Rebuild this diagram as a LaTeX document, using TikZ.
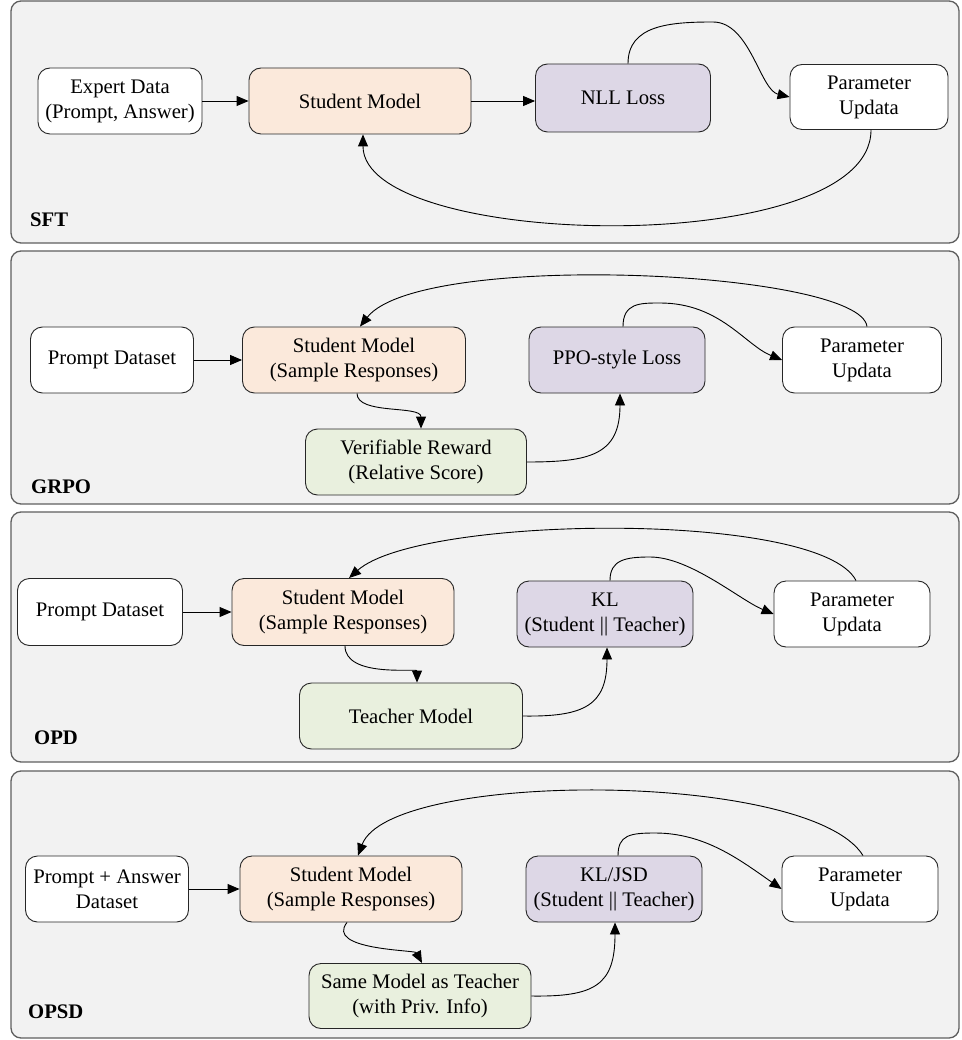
\documentclass[tikz,border=0pt]{standalone}
\usepackage{fontspec}
\setmainfont{LiberationSerif}[Extension=.ttf, UprightFont=*-Regular, BoldFont=*-Bold, ItalicFont=*-Italic, BoldItalicFont=*-BoldItalic]
\usetikzlibrary{arrows.meta}
\definecolor{panelfill}{HTML}{F2F2F2}
\definecolor{panelline}{HTML}{5F5F5F}
\definecolor{peach}{HTML}{FBE9DB}
\definecolor{lav}{HTML}{DDD7E6}
\definecolor{mint}{HTML}{E9F0DE}
\begin{document}
\begin{tikzpicture}[x=1pt,y=-1pt,
  panel/.style={draw=panelline, fill=panelfill, line width=1.3pt, rounded corners=10pt},
  box/.style={draw=black!85, line width=0.9pt, rounded corners=12pt, align=center, inner sep=0pt, font=\rmfamily\fontsize{20.7}{25}\selectfont},
  wbox/.style={box, fill=white},
  sbox/.style={box, fill=peach},
  lbox/.style={box, fill=lav},
  gbox/.style={box, fill=mint},
  tag/.style={font=\rmfamily\fontsize{20.7}{25}\selectfont\bfseries, anchor=base west, inner sep=0pt},
  conn/.style={draw=black, line width=0.9pt, -{Triangle[length=12pt,width=10pt]}},
]
\useasboundingbox (0,0) rectangle (961,1040);
\fill[white] (0,0) rectangle (961,1040);

% panels
\draw[panel] (11,1) rectangle (959,243);
\draw[panel] (11,251) rectangle (959,504);
\draw[panel] (11,512) rectangle (959,762);
\draw[panel] (11,771) rectangle (959,1038);

% ---------- SFT ----------
\node[wbox, minimum width=164pt, minimum height=66pt] (e1) at (120,101) {Expert Data\\(Prompt, Answer)};
\node[sbox, minimum width=222pt, minimum height=66pt] (s1) at (360,101) {Student Model};
\node[lbox, minimum width=175pt, minimum height=68pt] (l1) at (623,98) {NLL Loss};
\node[wbox, minimum width=158pt, minimum height=65pt] (p1) at (869,97) {Parameter\\Updata};
\node[tag] (t1lab) at (30,227) {SFT};

\draw[conn] (e1) -- (s1);
\draw[conn] (s1.east) -- (l1.west |- s1.east);
\draw[conn] ([xshift=5pt]l1.north) .. controls (628,25) and (670,22) .. (713,22) .. controls (750,22) and (760,90) .. (p1.west);
\draw[conn] ([xshift=2pt]p1.south) .. controls (871,260) and (363,250) .. ([xshift=3pt]s1.south);

% ---------- GRPO ----------
\node[wbox, minimum width=163pt, minimum height=66pt] (d2) at (112,360) {Prompt Dataset};
\node[sbox, minimum width=223pt, minimum height=66pt] (s2) at (354,360) {Student Model\\(Sample Responses)};
\node[gbox, minimum width=221pt, minimum height=66pt] (r2) at (416,462) {Verifiable Reward\\(Relative Score)};
\node[lbox, minimum width=176pt, minimum height=66pt] (l2) at (617,360) {PPO-style Loss};
\node[wbox, minimum width=159pt, minimum height=66pt] (p2) at (862,360) {Parameter\\Updata};
\node[tag] (t2lab) at (31,493) {GRPO};

\draw[conn] (d2) -- (s2);
\draw[conn] ([xshift=3pt]s2.south) .. controls (357,415) and (421,405) .. ([xshift=5pt]r2.north);
\draw[conn] (r2.east) .. controls (590,462) and (620,455) .. ([xshift=3pt]l2.south);
\draw[conn] ([xshift=6pt]l2.north) .. controls (623,303) and (640,303) .. (660,303) .. controls (720,303) and (745,345) .. (p2.west);
\draw[conn] ([xshift=5pt]p2.north) .. controls (860,270) and (420,250) .. ([xshift=6pt]s2.north);

% ---------- OPD ----------
\node[wbox, minimum width=165pt, minimum height=67pt] (d3) at (100,612) {Prompt Dataset};
\node[sbox, minimum width=222pt, minimum height=67pt] (s3) at (343,612) {Student Model\\(Sample Responses)};
\node[gbox, minimum width=223pt, minimum height=66pt] (t3) at (411,716) {Teacher Model};
\node[lbox, minimum width=176pt, minimum height=66pt] (l3) at (605,614) {KL\\(Student || Teacher)};
\node[wbox, minimum width=156pt, minimum height=66pt] (p3) at (852,614) {Parameter\\Updata};
\node[tag] (t3lab) at (34,744) {OPD};

\draw[conn] (d3) -- (s3);
\draw[conn] ([xshift=2pt]s3.south) .. controls (345,678) and (417,668) .. ([xshift=6pt]t3.north);
\draw[conn] (t3.east) .. controls (585,717) and (607,705) .. ([xshift=2pt]l3.south);
\draw[conn] ([xshift=5pt]l3.north) .. controls (610,560) and (625,557) .. (650,557) .. controls (690,557) and (740,600) .. (p3.west);
\draw[conn] ([xshift=4pt]p3.north) .. controls (820,510) and (420,515) .. ([xshift=6pt]s3.north);

% ---------- OPSD ----------
\node[wbox, minimum width=163pt, minimum height=66pt] (d4) at (107,889) {Prompt + Answer\\Dataset};
\node[sbox, minimum width=222pt, minimum height=66pt] (s4) at (351,889) {Student Model\\(Sample Responses)};
\node[gbox, minimum width=222pt, minimum height=65pt] (t4) at (420,996) {Same Model as Teacher\\(with Priv. Info)};
\node[lbox, minimum width=176pt, minimum height=66pt] (l4) at (614,889) {KL/JSD\\(Student || Teacher)};
\node[wbox, minimum width=156pt, minimum height=66pt] (p4) at (860,889) {Parameter\\Updata};
\node[tag] (t4lab) at (28,1018) {OPSD};

\draw[conn] (d4) -- (s4);
\draw[conn] ([xshift=-4pt]s4.south) .. controls (325,950) and (415,950) .. ([xshift=2pt]t4.north);
\draw[conn] (t4.east) .. controls (595,997) and (615,985) .. ([xshift=1pt]l4.south);
\draw[conn] ([xshift=4pt]l4.north) .. controls (618,835) and (630,833) .. (655,833) .. controls (705,833) and (740,860) .. (p4.west);
\draw[conn] ([xshift=3pt]p4.north) .. controls (810,770) and (390,770) .. ([xshift=7pt]s4.north);
\end{tikzpicture}
\end{document}
